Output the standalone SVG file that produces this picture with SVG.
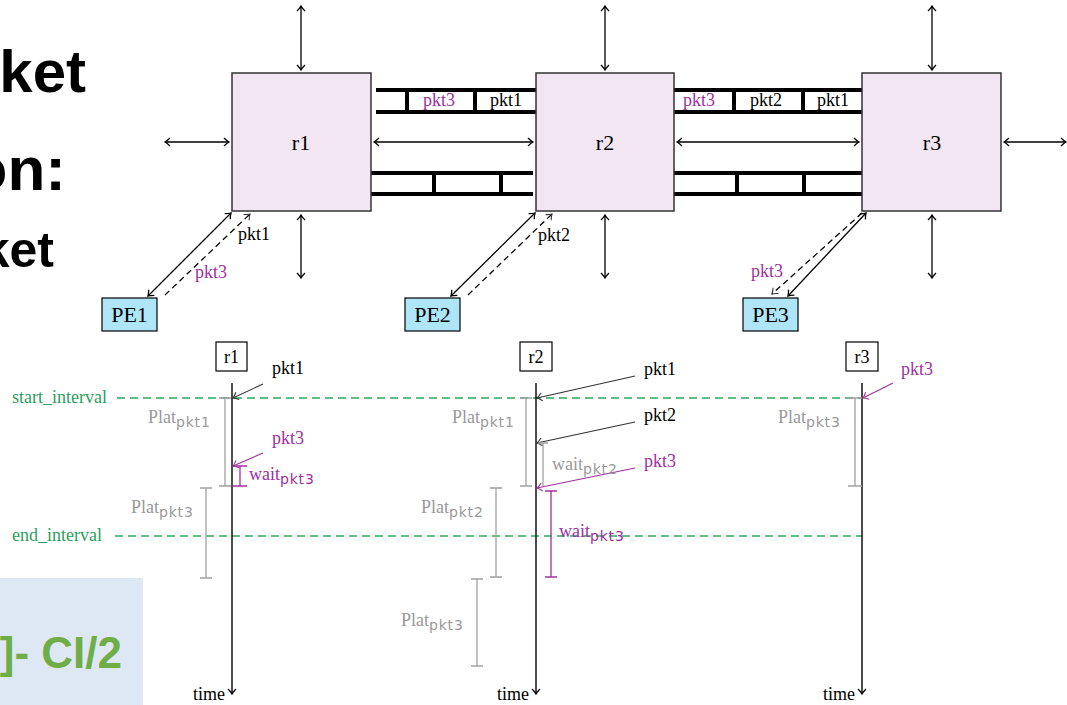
<svg xmlns="http://www.w3.org/2000/svg" width="1067" height="705" viewBox="0 0 1067 705">
<defs>
<marker id="ak" viewBox="-7 -5 8 10" refX="0" refY="0" markerWidth="8" markerHeight="10" markerUnits="userSpaceOnUse" orient="auto-start-reverse"><path d="M-5,-4 Q-2,-1 0,0 Q-2,1 -5,4" fill="none" stroke="#000" stroke-width="1.3"/></marker>
<marker id="ad" viewBox="-7 -5 8 10" refX="0" refY="0" markerWidth="8" markerHeight="10" markerUnits="userSpaceOnUse" orient="auto-start-reverse"><path d="M-5,-4 Q-2,-1 0,0 Q-2,1 -5,4" fill="none" stroke="#333" stroke-width="1.1"/></marker>
<marker id="ap" viewBox="-7 -5 8 10" refX="0" refY="0" markerWidth="8" markerHeight="10" markerUnits="userSpaceOnUse" orient="auto-start-reverse"><path d="M-5,-4 Q-2,-1 0,0 Q-2,1 -5,4" fill="none" stroke="#a0309f" stroke-width="1.1"/></marker>
</defs>
<style>
.rt{fill:#f1e6f2;stroke:#333;stroke-width:1.5}
.pe{fill:#aee6f8;stroke:#000;stroke-width:1.2}
.bx{fill:#fff;stroke:#000;stroke-width:1.2}
.lk{stroke:#000;stroke-width:1.3;fill:none}
.both{marker-start:url(#ak);marker-end:url(#ak)}
.dash{stroke-dasharray:6 4}
.buf{stroke:#000;stroke-width:4;fill:none}
.t{font-family:"Liberation Serif",serif;font-size:18px;fill:#000}
.big{font-family:"Liberation Serif",serif;font-size:22px;fill:#000}
.sub{font-family:"DejaVu Sans",sans-serif;font-size:14px;letter-spacing:0.8px}
.pu{fill:#a0309f}
.gr{fill:#999}
.gn{fill:#2e9e5c}
.bar{stroke:#a0a0a0;stroke-width:1.3;fill:none}
.pbar{stroke:#a0309f;stroke-width:1.3;fill:none}
.dk{stroke:#333;stroke-width:1.1;fill:none;marker-end:url(#ad)}
.pk{stroke:#a0309f;stroke-width:1.1;fill:none;marker-end:url(#ap)}
.ival{stroke:#2eaa5c;stroke-width:1.3;stroke-dasharray:8 5;fill:none}
.tl{stroke:#000;stroke-width:1.4;fill:none;marker-end:url(#ak)}
.title{font-family:"Liberation Sans",Arial,sans-serif;font-weight:bold;fill:#000}
</style>

<!-- slide fragments -->
<text class="title" x="86" y="92" font-size="60" text-anchor="end">ket</text>
<text class="title" x="66" y="190" font-size="62" text-anchor="end">on:</text>
<text class="title" x="54" y="267" font-size="50" text-anchor="end">ket</text>
<rect x="0" y="578" width="143" height="127" fill="#dde8f4"/>
<text x="122" y="668" font-family="Liberation Sans,Arial,sans-serif" font-weight="bold" font-size="44" fill="#70ad47" text-anchor="end">]- CI/2</text>

<!-- connectors -->
<g id="connectors">
  <line class="lk both" x1="301" y1="6" x2="301" y2="70"/>
  <line class="lk both" x1="605" y1="6" x2="605" y2="70"/>
  <line class="lk both" x1="932" y1="6" x2="932" y2="70"/>
  <line class="lk both" x1="301" y1="215" x2="301" y2="278"/>
  <line class="lk both" x1="605" y1="215" x2="605" y2="278"/>
  <line class="lk both" x1="932" y1="215" x2="932" y2="278"/>
  <line class="lk both" x1="165" y1="142" x2="229" y2="142"/>
  <line class="lk both" x1="374" y1="142" x2="533" y2="142"/>
  <line class="lk both" x1="677" y1="142" x2="859" y2="142"/>
  <line class="lk both" x1="1004" y1="142" x2="1066" y2="142"/>
  <!-- PE links -->
  <line class="lk both" x1="148" y1="296" x2="231" y2="213"/>
  <line class="lk dash" x1="165" y1="295" x2="250" y2="214" marker-end="url(#ad)"/>
  <line class="lk both" x1="451" y1="296" x2="535" y2="213"/>
  <line class="lk dash" x1="468" y1="295" x2="552" y2="214" marker-end="url(#ad)"/>
  <line class="lk both" x1="788" y1="296" x2="866" y2="213"/>
  <line class="lk dash" x1="862" y1="213" x2="772" y2="294" marker-end="url(#ad)"/>
</g>

<!-- buffers -->
<g id="buffers">
  <path class="buf" d="M376,90 H536 M376,112 H536 M407,90 V112 M475,90 V112"/>
  <path class="buf" d="M366,173 H533 M366,194 H533 M368,173 V194 M434,173 V194 M501,173 V194"/>
  <path class="buf" d="M668,90 H862 M668,112 H862 M734,90 V112 M803,90 V112"/>
  <path class="buf" d="M669,173 H862 M669,194 H862 M671,173 V194 M737,173 V194 M804,173 V194"/>
  <text class="t pu" x="423" y="106">pkt3</text>
  <text class="t" x="490" y="106">pkt1</text>
  <text class="t pu" x="683" y="106">pkt3</text>
  <text class="t" x="750" y="106">pkt2</text>
  <text class="t" x="817" y="106">pkt1</text>
</g>

<!-- routers -->
<g id="r1"><rect class="rt" x="232" y="73" width="139" height="138"/><text class="big" x="301" y="150" text-anchor="middle">r1</text></g>
<g id="r2"><rect class="rt" x="536" y="73" width="138" height="138"/><text class="big" x="605" y="150" text-anchor="middle">r2</text></g>
<g id="r3"><rect class="rt" x="862" y="73" width="139" height="138"/><text class="big" x="932" y="150" text-anchor="middle">r3</text></g>

<!-- PEs -->
<g id="PE1"><rect class="pe" x="102" y="298" width="55" height="33"/><text class="big" x="129.5" y="322" text-anchor="middle">PE1</text></g>
<g id="PE2"><rect class="pe" x="405" y="298" width="55" height="33"/><text class="big" x="432.5" y="322" text-anchor="middle">PE2</text></g>
<g id="PE3"><rect class="pe" x="743" y="298" width="55" height="33"/><text class="big" x="770.5" y="322" text-anchor="middle">PE3</text></g>

<!-- link labels -->
<text class="t" x="238" y="240">pkt1</text>
<text class="t pu" x="195" y="278">pkt3</text>
<text class="t" x="538" y="241">pkt2</text>
<text class="t pu" x="751" y="277">pkt3</text>

<!-- timeline -->
<g id="timeline">
  <line class="ival" x1="117" y1="398" x2="862" y2="398"/>
  <line class="ival" x1="115" y1="536" x2="862" y2="536"/>
  <text class="t gn" x="12" y="403">start_interval</text>
  <text class="t gn" x="12" y="541">end_interval</text>

  <g id="tl-r1">
    <rect class="bx" x="216" y="342" width="31" height="29"/><text class="t" x="231.5" y="363" text-anchor="middle">r1</text>
    <line class="tl" x1="232" y1="383" x2="232" y2="694"/>
    <text class="t" x="193" y="700">time</text>
  </g>
  <g id="tl-r2">
    <rect class="bx" x="520" y="342" width="32" height="29"/><text class="t" x="536" y="363" text-anchor="middle">r2</text>
    <line class="tl" x1="536" y1="383" x2="536" y2="694"/>
    <text class="t" x="497" y="700">time</text>
  </g>
  <g id="tl-r3">
    <rect class="bx" x="846" y="342" width="32" height="29"/><text class="t" x="862" y="363" text-anchor="middle">r3</text>
    <line class="tl" x1="862" y1="383" x2="862" y2="694"/>
    <text class="t" x="823" y="700">time</text>
  </g>

  <!-- arrivals -->
  <line class="dk" x1="263" y1="384" x2="233" y2="398"/>
  <text class="t" x="272" y="374">pkt1</text>
  <line class="pk" x1="263" y1="453" x2="233" y2="466"/>
  <text class="t pu" x="272" y="444">pkt3</text>
  <line class="dk" x1="635" y1="376" x2="537" y2="398"/>
  <text class="t" x="644" y="375">pkt1</text>
  <line class="dk" x1="635" y1="422" x2="537" y2="443"/>
  <text class="t" x="644" y="421">pkt2</text>
  <line class="pk" x1="635" y1="468" x2="537" y2="488"/>
  <text class="t pu" x="644" y="467">pkt3</text>
  <line class="pk" x1="893" y1="383" x2="863" y2="398"/>
  <text class="t pu" x="901" y="375">pkt3</text>

  <!-- latency bars -->
  <path class="bar" d="M225,398 V486 M219,398 H231 M219,486 H231"/>
  <text class="t gr" x="148" y="423">Plat<tspan class="sub" dy="4">pkt1</tspan></text>
  <path class="pbar" d="M240,466 V486 M233,466 H247 M233,486 H247"/>
  <text class="t pu" x="249" y="480">wait<tspan class="sub" dy="4">pkt3</tspan></text>
  <path class="bar" d="M206,488 V578 M200,488 H212 M200,578 H212"/>
  <text class="t gr" x="131" y="513">Plat<tspan class="sub" dy="4">pkt3</tspan></text>

  <path class="bar" d="M526,398 V486 M520,398 H532 M520,486 H532"/>
  <text class="t gr" x="452" y="423">Plat<tspan class="sub" dy="4">pkt1</tspan></text>
  <path class="bar" d="M543,443 V486 M538,443 H548"/>
  <text class="t gr" x="552" y="470">wait<tspan class="sub" dy="4">pkt2</tspan></text>
  <path class="bar" d="M496,488 V577 M490,488 H502 M490,577 H502"/>
  <text class="t gr" x="421" y="513">Plat<tspan class="sub" dy="4">pkt2</tspan></text>
  <path class="pbar" d="M551,491 V577 M545,491 H557 M545,577 H557"/>
  <text class="t pu" x="559" y="537">wait<tspan class="sub" dy="4">pkt3</tspan></text>
  <path class="bar" d="M477,579 V666 M471,579 H483 M471,666 H483"/>
  <text class="t gr" x="401" y="626">Plat<tspan class="sub" dy="4">pkt3</tspan></text>

  <path class="bar" d="M855,398 V486 M848,398 H862 M848,486 H862"/>
  <text class="t gr" x="778" y="423">Plat<tspan class="sub" dy="4">pkt3</tspan></text>
</g>
</svg>
